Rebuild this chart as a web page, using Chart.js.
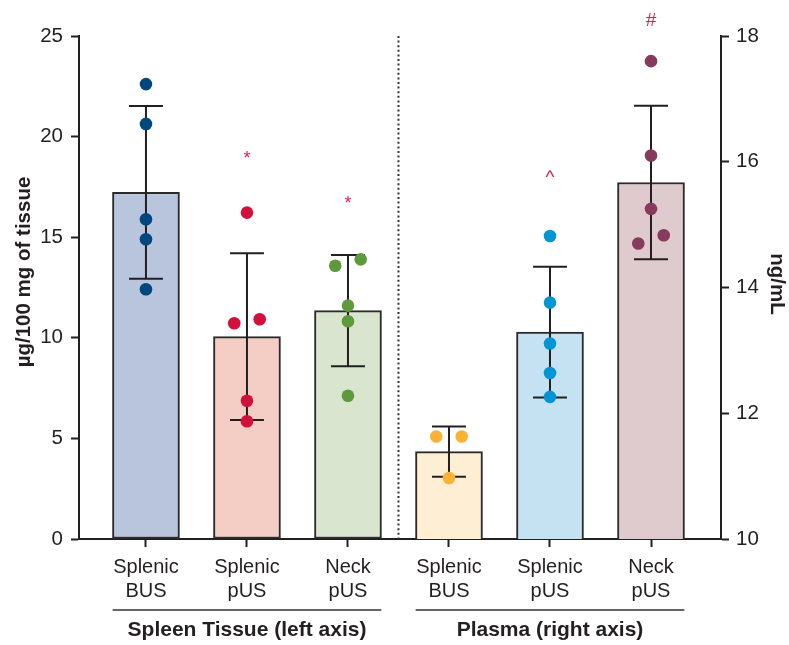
<!DOCTYPE html>
<html>
<head>
<meta charset="utf-8">
<script src="https://cdn.jsdelivr.net/npm/chart.js@4.4.0/dist/chart.umd.min.js"></script>
<style>
    html, body { margin: 0; padding: 0; background: #fff; }
</style>
</head>
<body>
<canvas id="chart" width="789" height="645"></canvas>
<script>
const categories = [['Splenic', 'BUS'], ['Splenic', 'pUS'], ['Neck', 'pUS'], ['Splenic', 'BUS'], ['Splenic', 'pUS'], ['Neck', 'pUS']];
const groupNames = ['Spleen Tissue (left axis)', 'Plasma (right axis)'];

// bar heights (mean) and SD: tissue on left axis, plasma on right axis
const tissueMeans = [17.23, 10.06, 11.35];
const tissueSD = [4.29, 4.14, 2.77];
const plasmaMeans = [11.39, 13.29, 15.67];
const plasmaSD = [0.40, 1.04, 1.22];

// individual values
const tissueSplenicBUS = [22.61, 20.63, 15.89, 14.90, 12.41];
const tissueSplenicPUS = [16.22, 10.72, 10.92, 6.87, 5.85];
const tissueNeckPUS = [13.58, 13.90, 11.60, 10.82, 7.12];
const plasmaSplenicBUS = [11.63, 11.63, 10.97];
const plasmaSplenicPUS = [14.82, 13.76, 13.11, 12.64, 12.26];
const plasmaNeckPUS = [17.60, 16.10, 15.25, 14.70, 14.83];

// which side a dot is pushed to when dots overlap (-1 left, 0 centre, 1 right)
const dotSide = [
    [0, 0, 0, 0, 0],
    [0, -1, 1, 0, 0],
    [-1, 1, 0, 0, 0],
    [-1, 1, 0],
    [0, 0, 0, 0, 0],
    [0, 0, 0, -1, 1]
];

// significance marks and the value they sit at
const marks = ['', '*', '*', '', '^', '#'];
const markValues = [null, 19.05, 16.8, null, 15.74, 18.24];

const barFills = ['#b8c5dd', '#f4cdc5', '#d9e5cf', '#fdeed4', '#c5e2f3', '#dfcbce'];
const dotColors = ['#00467f', '#d2103c', '#5c9a3b', '#f9b236', '#0096d6', '#863a5d'];
const ink = '#231f20';
const markColor = '#d81e4e';
const FONT = '"Liberation Sans", Arial, Helvetica, sans-serif';

Chart.defaults.font.family = FONT;
Chart.defaults.color = ink;

const dotGroups = [tissueSplenicBUS, tissueSplenicPUS, tissueNeckPUS, plasmaSplenicBUS, plasmaSplenicPUS, plasmaNeckPUS];

function dotDataset(i) {
    return {
        type: 'scatter',
        data: dotGroups[i].map((v, j) => ({ x: i + dotSide[i][j] * 0.126, y: v })),
        yAxisID: i < 3 ? 'y' : 'y1',
        backgroundColor: dotColors[i],
        borderWidth: 0,
        pointRadius: 6.3,
        pointHoverRadius: 6.3,
        order: 1
    };
}

const extras = {
    id: 'extras',
    beforeDatasetsDraw(chart) {
        const { ctx, chartArea, scales } = chart;
        const x = scales.x.getPixelForValue(2.5);
        ctx.save();
        ctx.strokeStyle = '#333';
        ctx.lineWidth = 2;
        ctx.setLineDash([2, 2.6]);
        ctx.beginPath();
        ctx.moveTo(x, chartArea.top);
        ctx.lineTo(x, chartArea.bottom);
        ctx.stroke();
        ctx.restore();
    },
    afterDatasetDraw(chart, args) {
        const ds = chart.data.datasets[args.index];
        if (!ds.sd) return;
        const { ctx, scales } = chart;
        const yScale = scales[ds.yAxisID];
        ctx.save();
        ctx.strokeStyle = ink;
        ctx.lineWidth = 2;
        ds.data.forEach((p, i) => {
            const cx = scales.x.getPixelForValue(p.x);
            const hw = scales.x.getPixelForValue(p.x + 0.168) - cx;
            const top = yScale.getPixelForValue(p.y + ds.sd[i]);
            const bot = yScale.getPixelForValue(p.y - ds.sd[i]);
            ctx.beginPath();
            ctx.moveTo(cx, top); ctx.lineTo(cx, bot);
            ctx.moveTo(cx - hw, top); ctx.lineTo(cx + hw, top);
            ctx.moveTo(cx - hw, bot); ctx.lineTo(cx + hw, bot);
            ctx.stroke();
        });
        ctx.restore();
    },
    afterDraw(chart) {
        const { ctx, scales } = chart;
        ctx.save();

        // significance marks
        ctx.fillStyle = markColor;
        ctx.textAlign = 'center';
        ctx.textBaseline = 'middle';
        marks.forEach((m, i) => {
            if (!m) return;
            const yScale = i < 3 ? scales.y : scales.y1;
            ctx.font = (m === '*' ? '18px ' : '19px ') + FONT;
            ctx.fillText(m, scales.x.getPixelForValue(i), yScale.getPixelForValue(markValues[i]) + (m === '*' ? 3 : 0));
        });

        // axis titles
        ctx.fillStyle = ink;
        ctx.font = 'bold 20.5px ' + FONT;
        ctx.save();
        ctx.translate(24, 272);
        ctx.rotate(-Math.PI / 2);
        ctx.fillText('µg/100 mg of tissue', 0, 0);
        ctx.restore();
        ctx.save();
        ctx.translate(777, 284);
        ctx.rotate(Math.PI / 2);
        ctx.fillText('ng/mL', 0, 0);
        ctx.restore();

        // group underlines and labels
        ctx.strokeStyle = '#333';
        ctx.lineWidth = 1.6;
        ctx.font = 'bold 21px ' + FONT;
        groupNames.forEach((name, g) => {
            const first = g * 3, last = g * 3 + 2;
            const x0 = scales.x.getPixelForValue(first - 0.33);
            const x1 = scales.x.getPixelForValue(last + 0.33);
            ctx.beginPath();
            ctx.moveTo(x0, 610);
            ctx.lineTo(x1, 610);
            ctx.stroke();
            ctx.fillText(name, scales.x.getPixelForValue(first + 1), 630);
        });
        ctx.restore();
    }
};

const axisGrid = { drawOnChartArea: false, drawTicks: true, tickLength: 8, tickWidth: 2, tickColor: ink, offset: false };
const axisBorder = { color: ink, width: 2 };

new Chart(document.getElementById('chart'), {
    type: 'bar',
    data: {
        datasets: [
            {
                label: 'Spleen tissue',
                data: tissueMeans.map((v, i) => ({ x: i, y: v })),
                sd: tissueSD,
                yAxisID: 'y',
                backgroundColor: barFills.slice(0, 3),
                borderColor: '#2b2b2b',
                borderWidth: 2,
                borderSkipped: false,
                barThickness: 67,
                grouped: false,
                order: 2
            },
            {
                label: 'Plasma',
                data: plasmaMeans.map((v, i) => ({ x: i + 3, y: v })),
                sd: plasmaSD,
                yAxisID: 'y1',
                backgroundColor: barFills.slice(3),
                borderColor: '#2b2b2b',
                borderWidth: 2,
                borderSkipped: false,
                barThickness: 67,
                grouped: false,
                order: 2
            },
            dotDataset(0), dotDataset(1), dotDataset(2),
            dotDataset(3), dotDataset(4), dotDataset(5)
        ]
    },
    options: {
        responsive: false,
        animation: false,
        devicePixelRatio: 1,
        layout: { padding: { top: 36, left: 0, right: 0, bottom: 0 } },
        plugins: { legend: { display: false }, tooltip: { enabled: false } },
        scales: {
            x: {
                type: 'linear',
                offset: false,
                min: -0.663,
                max: 5.693,
                afterBuildTicks: axis => { axis.ticks = categories.map((c, i) => ({ value: i })); },
                ticks: {
                    callback: v => categories[v],
                    font: { size: 20, lineHeight: 1.2 },
                    color: ink,
                    padding: 8,
                    maxRotation: 0,
                    autoSkip: false
                },
                grid: axisGrid,
                border: axisBorder,
                afterFit: s => { s.height = 106; }
            },
            y: {
                position: 'left',
                min: 0,
                max: 25,
                ticks: { stepSize: 5, font: { size: 20.5 }, color: ink, padding: 8 },
                grid: axisGrid,
                border: axisBorder,
                afterFit: s => { s.width = 79; }
            },
            y1: {
                position: 'right',
                min: 10,
                max: 18,
                ticks: { stepSize: 2, font: { size: 20.5 }, color: ink, padding: 7 },
                grid: axisGrid,
                border: axisBorder,
                afterFit: s => { s.width = 68; }
            }
        }
    },
    plugins: [extras]
});
</script>
</body>
</html>
